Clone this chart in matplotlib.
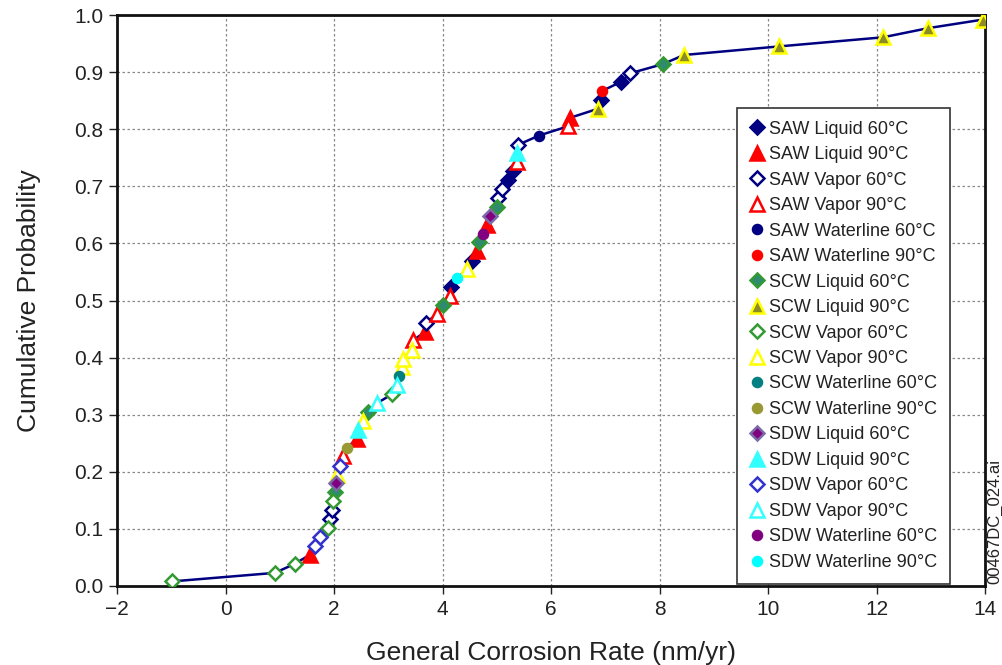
import numpy as np
import matplotlib
matplotlib.use("Agg")
from matplotlib import pyplot as plt

plt.rcParams['font.family'] = ['Liberation Sans', 'DejaVu Sans']

# corrosion rate (nm/yr) and cumulative probability for each specimen group
saw_liq_60_x = [4.16, 4.54, 5.21, 5.30, 6.92, 7.29]
saw_liq_60_p = [0.523, 0.570, 0.711, 0.727, 0.852, 0.883]
saw_liq_90_x = [1.56, 2.42, 3.68, 4.64, 4.82, 6.35]
saw_liq_90_p = [0.055, 0.258, 0.445, 0.586, 0.633, 0.820]
saw_vap_60_x = [1.93, 1.96, 3.70, 5.02, 5.10, 5.40, 7.46]
saw_vap_60_p = [0.117, 0.133, 0.461, 0.680, 0.695, 0.773, 0.898]
saw_vap_90_x = [2.17, 3.45, 3.90, 4.14, 5.37, 6.31]
saw_vap_90_p = [0.227, 0.430, 0.477, 0.508, 0.742, 0.805]
saw_wl_60_x = [5.78]
saw_wl_60_p = [0.789]
saw_wl_90_x = [6.94]
saw_wl_90_p = [0.867]
scw_liq_60_x = [2.02, 2.63, 4.01, 4.67, 5.00, 8.06]
scw_liq_60_p = [0.164, 0.305, 0.492, 0.602, 0.664, 0.914]
scw_liq_90_x = [6.87, 8.45, 10.20, 12.12, 12.95, 13.96]
scw_liq_90_p = [0.836, 0.930, 0.945, 0.961, 0.977, 0.992]
scw_vap_60_x = [-0.99, 0.91, 1.28, 1.89, 1.98, 3.07]
scw_vap_60_p = [0.008, 0.023, 0.039, 0.102, 0.148, 0.336]
scw_vap_90_x = [2.06, 2.53, 3.25, 3.27, 3.43, 4.45]
scw_vap_90_p = [0.195, 0.289, 0.383, 0.398, 0.414, 0.555]
scw_wl_60_x = [3.20]
scw_wl_60_p = [0.367]
scw_wl_90_x = [2.24]
scw_wl_90_p = [0.242]
sdw_liq_60_x = [2.03, 4.88]
sdw_liq_60_p = [0.180, 0.648]
sdw_liq_90_x = [2.45, 5.38]
sdw_liq_90_p = [0.273, 0.758]
sdw_vap_60_x = [1.65, 1.74, 2.11]
sdw_vap_60_p = [0.070, 0.086, 0.211]
sdw_vap_90_x = [2.79, 3.16]
sdw_vap_90_p = [0.320, 0.352]
sdw_wl_60_x = [4.75]
sdw_wl_60_p = [0.617]
sdw_wl_90_x = [4.27]
sdw_wl_90_p = [0.539]

NAVY = '#000080'
RED = '#ff0000'
GREEN = '#339933'
YELLOW = '#ffff00'
CYAN = '#33ffff'
BLUE = '#3333cc'

# label, x, p, marker, size, face, edge
series = [
    ('SAW Liquid 60°C', saw_liq_60_x, saw_liq_60_p, 'D', 7.5, NAVY, NAVY),
    ('SAW Liquid 90°C', saw_liq_90_x, saw_liq_90_p, '^', 10, RED, RED),
    ('SAW Vapor 60°C', saw_vap_60_x, saw_vap_60_p, 'D', 7.5, 'white', NAVY),
    ('SAW Vapor 90°C', saw_vap_90_x, saw_vap_90_p, '^', 10, 'white', RED),
    ('SAW Waterline 60°C', saw_wl_60_x, saw_wl_60_p, 'o', 6.5, NAVY, NAVY),
    ('SAW Waterline 90°C', saw_wl_90_x, saw_wl_90_p, 'o', 6.5, RED, RED),
    ('SCW Liquid 60°C', scw_liq_60_x, scw_liq_60_p, 'D', 7.5, '#2e8b70', GREEN),
    ('SCW Liquid 90°C', scw_liq_90_x, scw_liq_90_p, '^', 10, '#8c8c26', YELLOW),
    ('SCW Vapor 60°C', scw_vap_60_x, scw_vap_60_p, 'D', 7.5, 'white', GREEN),
    ('SCW Vapor 90°C', scw_vap_90_x, scw_vap_90_p, '^', 10, 'white', YELLOW),
    ('SCW Waterline 60°C', scw_wl_60_x, scw_wl_60_p, 'o', 6.5, '#008080', '#008080'),
    ('SCW Waterline 90°C', scw_wl_90_x, scw_wl_90_p, 'o', 6.5, '#999933', '#999933'),
    ('SDW Liquid 60°C', sdw_liq_60_x, sdw_liq_60_p, 'D', 7.5, '#800080', '#7a6aa8'),
    ('SDW Liquid 90°C', sdw_liq_90_x, sdw_liq_90_p, '^', 10, CYAN, CYAN),
    ('SDW Vapor 60°C', sdw_vap_60_x, sdw_vap_60_p, 'D', 7.5, 'white', BLUE),
    ('SDW Vapor 90°C', sdw_vap_90_x, sdw_vap_90_p, '^', 10, 'white', CYAN),
    ('SDW Waterline 60°C', sdw_wl_60_x, sdw_wl_60_p, 'o', 6.5, '#800080', '#800080'),
    ('SDW Waterline 90°C', sdw_wl_90_x, sdw_wl_90_p, 'o', 6.5, '#00ffff', '#00ffff'),
]

fig = plt.figure(figsize=(10.03, 6.65), dpi=100)
ax = fig.add_axes([0.1167, 0.1188, 0.8654, 0.8586])

# connecting line through all specimens in probability order
all_x = np.concatenate([s[1] for s in series])
all_p = np.concatenate([s[2] for s in series])
order = np.argsort(all_p)
ax.plot(all_x[order], all_p[order], color=NAVY, lw=1.8, zorder=2)

for label, x, p, mk, ms, fc, ec in series:
    ax.plot(x, p, linestyle='none', marker=mk, markersize=ms,
            markerfacecolor=fc, markeredgecolor=ec, markeredgewidth=1.8,
            label=label, zorder=3)

ax.set_xlim(-2, 14)
ax.set_ylim(0, 1.0)
ax.set_xticks(np.arange(-2, 15, 2))
ax.set_yticks(np.arange(0, 1.01, 0.1))
ax.set_yticklabels(['%.1f' % v for v in np.arange(0, 1.01, 0.1)])
ax.grid(True, color='#888888', linestyle=(0, (2, 2)), linewidth=0.9)
ax.set_axisbelow(True)
for sp in ax.spines.values():
    sp.set_linewidth(2)
    sp.set_color('#111111')
ax.tick_params(labelsize=15, length=6, width=1, colors='#222222', pad=4)
ax.set_xlabel('General Corrosion Rate (nm/yr)', fontsize=19, color='#222222', labelpad=16)
ax.set_ylabel('Cumulative Probability', fontsize=19, color='#222222', labelpad=24)

leg = ax.legend(loc='upper left', bbox_to_anchor=(737 / 1003, 1 - 108 / 665),
                bbox_transform=fig.transFigure, fontsize=13, numpoints=1,
                handlelength=0.8, handletextpad=0.3, labelspacing=0.47,
                borderpad=0.7, fancybox=False, framealpha=1, borderaxespad=0)
leg.get_frame().set_edgecolor('#333333')
leg.get_frame().set_linewidth(1.2)
for t in leg.get_texts():
    t.set_color('#222222')

fig.text(0.9915, 0.122, '00467DC_024.ai', rotation=90, fontsize=12,
         ha='center', va='bottom', color='#222222')

fig.savefig('out.png', dpi=100)
